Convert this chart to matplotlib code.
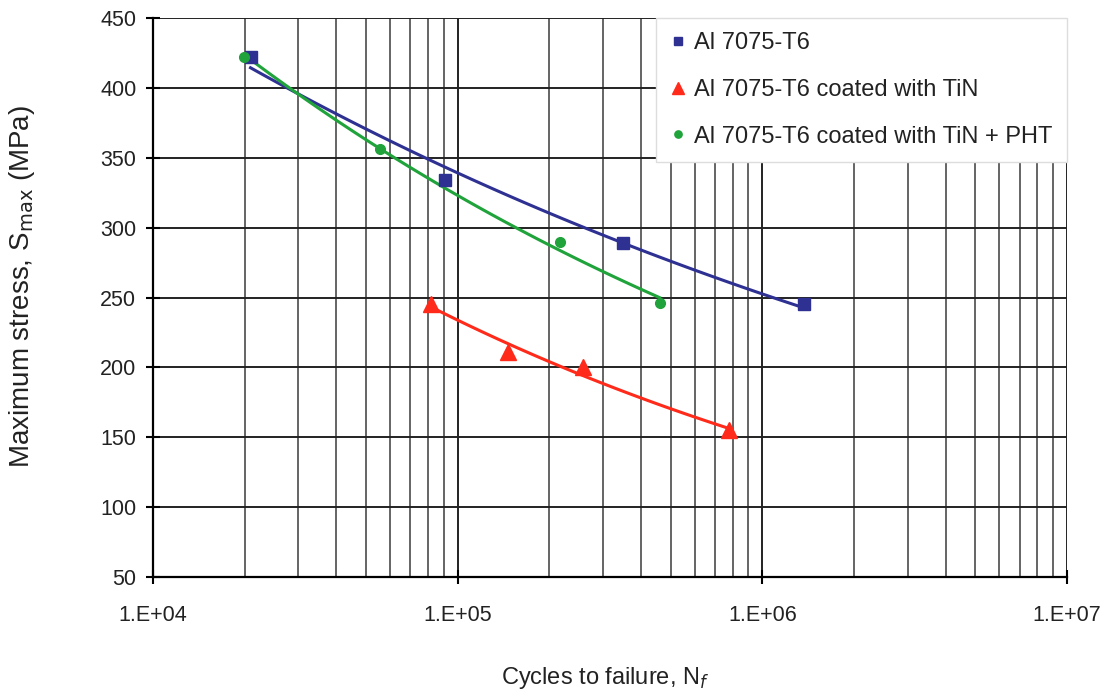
import matplotlib.pyplot as plt
import numpy as np
from matplotlib.ticker import LogLocator, FixedLocator, NullFormatter

plt.rcParams['font.family'] = ['Liberation Sans', 'DejaVu Sans']

# data
n_bare = [2.09e4, 9.06e4, 3.48e5, 1.37e6]
s_bare = [422, 334, 289, 245]
n_tin = [8.15e4, 1.46e5, 2.57e5, 7.8e5]
s_tin = [245, 211, 200, 155]
n_pht = [1.99e4, 5.55e4, 2.16e5, 4.6e5]
s_pht = [422, 356, 290, 246]

labels = ['Al 7075-T6', 'Al 7075-T6 coated with TiN', 'Al 7075-T6 coated with TiN + PHT']
colors = ['#2e3192', '#ff2a1a', '#1fa33a']
markers = ['s', '^', 'o']
msizes = [8.5, 11, 7]

fig = plt.figure(figsize=(11.02, 6.9), dpi=100)
ax = fig.add_axes([153/1102, 1 - 577/690, (1067-153)/1102, (577-18)/690])

series = [(n_bare, s_bare), (n_tin, s_tin), (n_pht, s_pht)]
for (n, s), c, m, ms, lab in zip(series, colors, markers, msizes, labels):
    n = np.array(n); s = np.array(s)
    # power trendline like excel
    b, a = np.polyfit(np.log(n), np.log(s), 1)
    xx = np.logspace(np.log10(n.min()), np.log10(n.max()), 100)
    ax.plot(xx, np.exp(a) * xx ** b, color=c, lw=2.2, zorder=3)
    ax.plot(n, s, ls='none', marker=m, color=c, ms=ms, label=lab, zorder=4)

ax.set_xscale('log')
ax.set_xlim(1e4, 1e7)
ax.set_ylim(50, 450)
ax.set_yticks(np.arange(50, 451, 50))
ax.xaxis.set_major_locator(FixedLocator([1e4, 1e5, 1e6, 1e7]))
ax.xaxis.set_minor_locator(LogLocator(base=10, subs=np.arange(2, 10)))
ax.xaxis.set_minor_formatter(NullFormatter())
ax.set_xticklabels(['1.E+04', '1.E+05', '1.E+06', '1.E+07'])

ax.grid(True, which='major', axis='both', color='#222222', lw=1.4)
ax.grid(True, which='minor', axis='x', color='#4a4a4a', lw=1.2)
ax.set_axisbelow(True)

for sp in ['top', 'right']:
    ax.spines[sp].set_visible(False)
for sp in ['left', 'bottom']:
    ax.spines[sp].set_linewidth(1.6)

ax.tick_params(axis='both', which='major', direction='inout', length=10, width=1.5,
               labelsize=15.5, labelcolor='#222222')
ax.tick_params(axis='y', which='major', pad=7)
ax.tick_params(axis='x', which='major', pad=15)
ax.tick_params(axis='x', which='minor', length=0)

fig.text(605/1102, 1 - 678/690, 'Cycles to failure, N$_f$', fontsize=17,
         ha='center', va='center', color='#222222')
fig.text(22/1102, 1 - 287/690, r'Maximum stress, S$_{\mathrm{max}}$ (MPa)', fontsize=20,
         ha='center', va='center', rotation=90, color='#222222')

leg = ax.legend(loc='upper right', bbox_to_anchor=(1.0, 1.0), fontsize=17,
                frameon=True, fancybox=False, framealpha=1, edgecolor='#dddddd',
                handlelength=0.7, handletextpad=0.35, labelspacing=1.05,
                borderpad=0.6, borderaxespad=0.0, markerscale=0.75)
leg.set_zorder(5)
for t in leg.get_texts():
    t.set_color('#222222')

fig.savefig('out.png', dpi=100, facecolor='white')
